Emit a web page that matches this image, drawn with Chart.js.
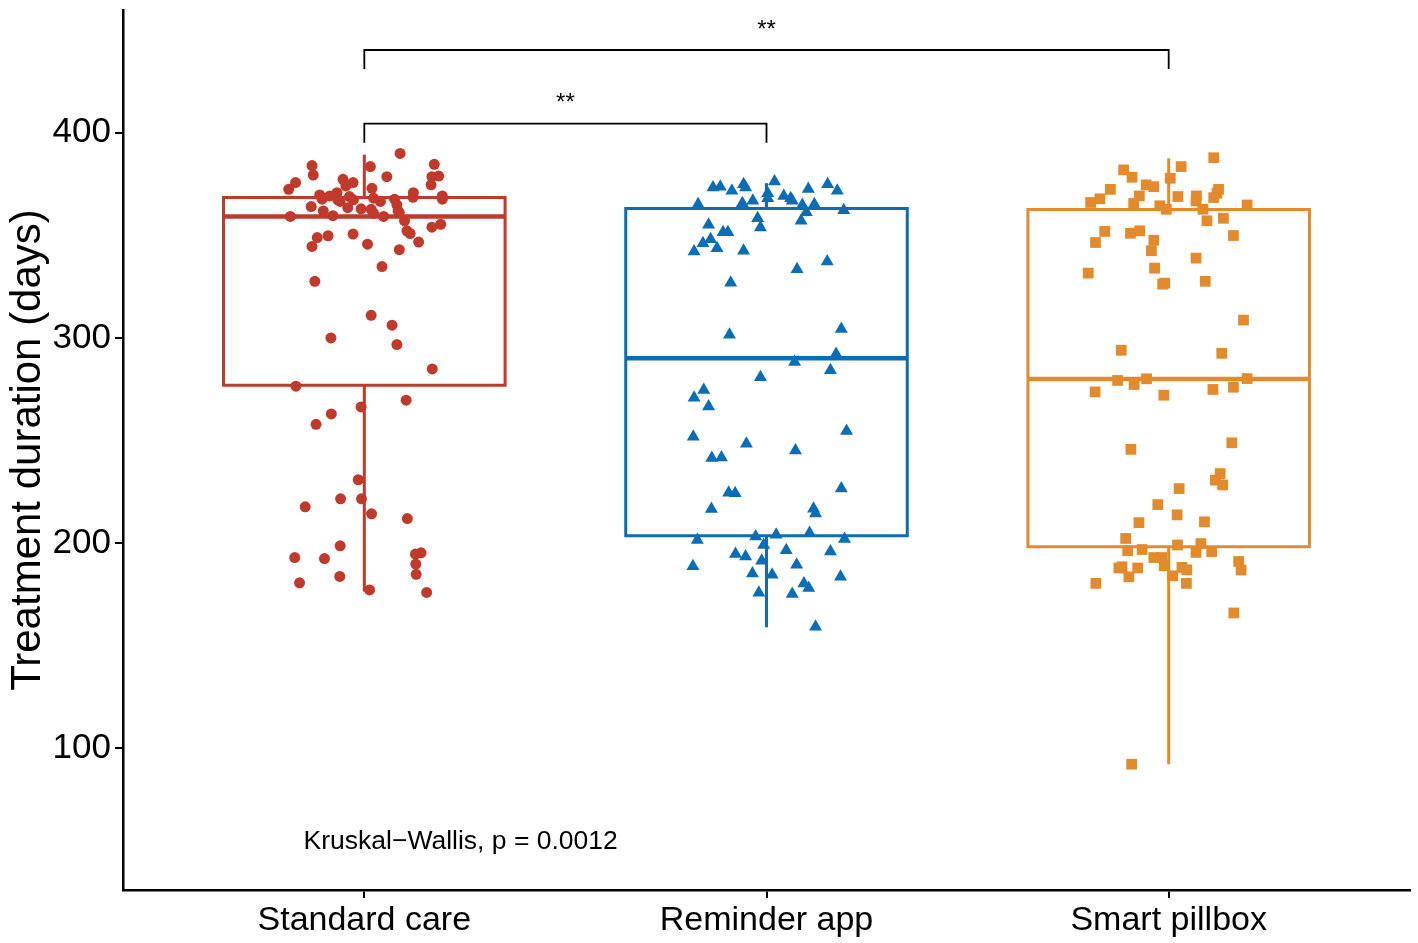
<!DOCTYPE html>
<html><head><meta charset="utf-8">
<script src="https://cdn.jsdelivr.net/npm/chart.js@4.4.1/dist/chart.umd.min.js"></script>
<style>html,body{margin:0;padding:0;background:#fff;}canvas{display:block;}</style>
</head><body>
<canvas id="c" width="1418" height="943"></canvas>
<script>
// ---------- data ----------
const categories = ['Standard care', 'Reminder app', 'Smart pillbox'];
const yTicks = [100, 200, 300, 400];

const standardValues = [389.9,384.0,383.5,384.6,379.4,378.6,378.6,378.9,377.3,375.7,375.7,372.4,374.6,374.1,372.9,369.7,369.2,370.8,368.9,370.8,368.5,369.2,367.6,367.6,367.3,366.5,367.3,368.1,366.5,367.6,364.0,363.5,362.9,362.7,360.8,364.8,361.9,361.1,361.9,359.6,359.2,359.2,357.1,354.0,355.4,352.2,350.9,348.9,344.6,349.8,350.6,345.7,346.7,343.0,334.8,327.6,311.0,306.2,300.0,296.8,284.9,276.5,269.7,266.4,263.0,257.9,230.9,221.6,221.6,217.7,214.3,212.0,198.7,193.0,192.5,194.7,195.3,189.8,184.8,180.7,183.8,177.2,176.0];
const standardJitter = [0.089,-0.130,0.015,0.174,-0.127,0.056,0.168,0.185,-0.053,-0.028,-0.171,-0.188,0.166,-0.046,0.019,-0.111,-0.086,-0.068,-0.037,0.122,0.121,0.194,0.194,-0.105,-0.066,-0.060,-0.027,0.023,0.040,0.075,-0.132,-0.041,-0.008,0.017,0.023,0.081,0.084,0.087,-0.102,-0.078,-0.184,0.048,0.100,0.168,0.190,0.106,0.114,-0.117,-0.130,-0.090,-0.028,0.008,0.135,0.087,0.044,-0.123,0.017,0.069,-0.083,0.081,0.169,-0.170,0.104,-0.008,-0.082,-0.120,-0.015,-0.059,-0.007,-0.147,0.018,0.107,-0.060,-0.173,-0.099,0.127,0.141,0.128,0.129,-0.161,-0.061,0.013,0.155];

const reminderValues = [373.3,373.7,371.7,374.9,373.3,376.2,370.5,368.1,372.6,374.9,371.7,369.2,368.1,366.8,365.1,365.6,366.8,364.8,365.1,361.2,362.2,358.3,357.1,353.8,355.1,351.5,351.5,348.1,346.2,342.1,343.7,342.5,337.3,333.5,326.9,301.6,304.4,292.2,288.3,284.3,280.9,274.6,270.8,266.6,254.6,251.9,248.5,245.2,241.5,241.8,224.6,224.3,226.6,216.6,216.8,214.4,201.5,203.2,204.1,204.9,202.0,199.1,194.7,193.5,196.6,195.9,188.8,191.4,189.5,185.2,184.6,183.6,180.4,178.1,175.9,175.2,159.3];
const reminderJitter = [-0.133,-0.115,-0.086,-0.057,-0.052,0.020,0.003,0.003,0.104,0.152,0.176,0.043,0.060,0.064,-0.170,-0.060,-0.034,0.089,0.119,0.099,0.192,-0.022,0.086,-0.015,-0.144,-0.108,-0.096,-0.139,-0.158,-0.180,-0.123,-0.057,0.151,0.076,-0.089,-0.092,0.186,0.173,0.070,0.159,-0.015,-0.156,-0.180,-0.144,0.199,-0.182,-0.050,0.072,-0.136,-0.112,-0.094,-0.078,0.186,-0.137,0.117,0.122,-0.172,-0.027,0.024,0.107,0.194,-0.007,-0.077,-0.052,0.049,0.159,-0.183,-0.012,0.075,-0.035,0.014,0.184,0.093,0.105,-0.019,0.064,0.122];

const pillboxValues = [387.8,383.5,381.9,378.3,377.8,374.6,373.7,372.4,372.4,370.5,367.8,366.0,369.2,365.6,368.9,369.2,366.8,368.4,364.4,362.7,362.7,364.8,357.1,358.3,351.9,346.5,351.0,352.2,347.6,349.9,342.5,338.9,331.6,334.0,326.2,326.7,327.6,308.7,294.0,292.5,279.3,277.3,280.1,280.2,273.7,272.1,274.9,276.0,245.7,248.9,233.9,230.7,228.4,226.6,218.8,213.8,210.0,210.4,202.3,196.3,196.9,199.1,199.8,195.5,195.9,193.0,193.0,189.0,188.5,187.9,187.9,183.6,188.2,187.0,184.1,180.4,191.1,186.9,180.4,166.0,92.3];
const pillboxJitter = [0.112,0.031,-0.112,-0.091,0.004,-0.056,-0.037,-0.145,0.124,0.120,-0.171,-0.194,-0.073,-0.087,0.023,0.069,0.068,0.112,-0.022,-0.006,0.085,0.195,0.095,0.136,-0.159,-0.182,-0.095,-0.072,-0.037,0.161,-0.043,0.068,-0.200,-0.035,-0.015,-0.010,0.091,0.186,-0.118,0.132,-0.127,-0.086,-0.055,0.195,-0.183,-0.012,0.110,0.161,-0.094,0.157,0.128,0.116,0.134,0.026,-0.027,0.021,-0.074,0.089,-0.107,-0.102,-0.066,0.022,0.080,0.068,0.107,-0.037,-0.017,-0.011,-0.116,-0.124,-0.077,-0.099,0.033,0.045,0.010,0.044,0.174,0.180,-0.181,0.162,-0.092];

// box statistics per category
const boxQ1 = [277.0, 203.6, 198.3];
const boxMedian = [359.2, 290.1, 280.0];
const boxQ3 = [368.4, 363.1, 362.6];
const whiskerLow = [176.4, 159.0, 92.3];
const whiskerHigh = [389.3, 375.4, 387.5];

// pairwise comparisons (category numbers), bracket heights, labels
const compFrom = [1, 1];
const compTo = [2, 3];
const bracketTop = [404.4, 440.3];
const bracketTip = [395.1, 431.1];
const compLabel = ['**', '**'];
const compLabelY = [414.3, 450.1];
const testText = 'Kruskal\u2212Wallis, p = 0.0012';
const testTextPos = [0.849, 54.3];

// ---------- styling ----------
const colors = ['#C03A2B', '#0B6DB5', '#E38A2C'];
const shapes = ['circle', 'triangle', 'rect'];
const radii = [5.5, 7.5, 7.6];
const BOX_HALF = 0.35;
const FONT = "'Liberation Sans', Arial, sans-serif";

const groupValues = [standardValues, reminderValues, pillboxValues];
const groupJitter = [standardJitter, reminderJitter, pillboxJitter];

const datasets = [];
groupValues.forEach((vals, g) => {
  datasets.push({
    data: vals.map((v, i) => ({ x: g + 1 + groupJitter[g][i], y: v })),
    showLine: false,
    pointStyle: shapes[g],
    pointRadius: radii[g],
    pointBackgroundColor: colors[g],
    pointBorderColor: colors[g],
    pointBorderWidth: 0,
    order: 0
  });
});
function lineDs(pts, color, width, cap) {
  return {
    data: pts.map(p => ({ x: p[0], y: p[1] })),
    showLine: true, pointRadius: 0, pointHoverRadius: 0,
    borderColor: color, borderWidth: width, borderCapStyle: cap || 'butt',
    borderJoinStyle: 'miter', fill: false, tension: 0, order: 1
  };
}
categories.forEach((c, g) => {
  const x = g + 1;
  datasets.push(lineDs([[x, boxQ3[g]], [x, whiskerHigh[g]]], colors[g], 3));
  datasets.push(lineDs([[x, boxQ1[g]], [x, whiskerLow[g]]], colors[g], 3));
  datasets.push(lineDs([[x - BOX_HALF, boxQ1[g]], [x + BOX_HALF, boxQ1[g]], [x + BOX_HALF, boxQ3[g]], [x - BOX_HALF, boxQ3[g]], [x - BOX_HALF, boxQ1[g]]], colors[g], 3, 'square'));
  datasets.push(lineDs([[x - BOX_HALF, boxMedian[g]], [x + BOX_HALF, boxMedian[g]]], colors[g], 4.5));
});
compFrom.forEach((f, i) => {
  datasets.push(lineDs([[f, bracketTip[i]], [f, bracketTop[i]], [compTo[i], bracketTop[i]], [compTo[i], bracketTip[i]]], '#000', 1.8));
});

const textPlugin = {
  id: 'texts',
  afterDatasetsDraw(chart) {
    const ctx = chart.ctx, xs = chart.scales.x, ys = chart.scales.y;
    ctx.save();
    ctx.fillStyle = '#000';
    ctx.font = '24px ' + FONT;
    ctx.textAlign = 'center';
    ctx.textBaseline = 'middle';
    compFrom.forEach((f, i) => {
      ctx.fillText(compLabel[i], xs.getPixelForValue((f + compTo[i]) / 2), ys.getPixelForValue(compLabelY[i]));
    });
    ctx.font = '26.5px ' + FONT;
    ctx.textAlign = 'left';
    ctx.fillText(testText, xs.getPixelForValue(testTextPos[0]), ys.getPixelForValue(testTextPos[1]));
    ctx.restore();
  }
};

new Chart(document.getElementById('c'), {
  type: 'scatter',
  data: { datasets },
  plugins: [textPlugin],
  options: {
    responsive: false,
    animation: false,
    events: [],
    layout: { padding: { left: 0, top: 10, right: 8, bottom: 0 } },
    plugins: { legend: { display: false }, tooltip: { enabled: false } },
    scales: {
      x: {
        type: 'linear', min: 0.4, max: 3.6,
        afterBuildTicks: s => { s.ticks = categories.map((c, i) => ({ value: i + 1 })); },
        afterFit: s => { s.height = 53; s.paddingLeft = 0; s.paddingRight = 0; },
        ticks: { color: '#000', font: { family: FONT, size: 34 }, padding: 2,
                 callback: v => categories[v - 1], maxRotation: 0, autoSkip: false },
        grid: { display: true, drawOnChartArea: false, drawTicks: true, tickLength: 8, color: '#000', lineWidth: 2 },
        border: { display: true, color: '#000', width: 2.5 }
      },
      y: {
        type: 'linear', min: 31, max: 459.8,
        afterBuildTicks: s => { s.ticks = yTicks.map(v => ({ value: v })); },
        afterFit: s => { s.width = 123; s.paddingTop = 0; s.paddingBottom = 0; },
        ticks: { color: '#000', font: { family: FONT, size: 35 }, padding: 4 },
        grid: { display: true, drawOnChartArea: false, drawTicks: true, tickLength: 8, color: '#000', lineWidth: 2 },
        border: { display: true, color: '#000', width: 2.5 },
        title: { display: true, text: 'Treatment duration (days)', color: '#000',
                 font: { family: FONT, size: 42, lineHeight: 1 }, padding: { top: 7, bottom: 0 } }
      }
    }
  }
});
</script>
</body></html>
